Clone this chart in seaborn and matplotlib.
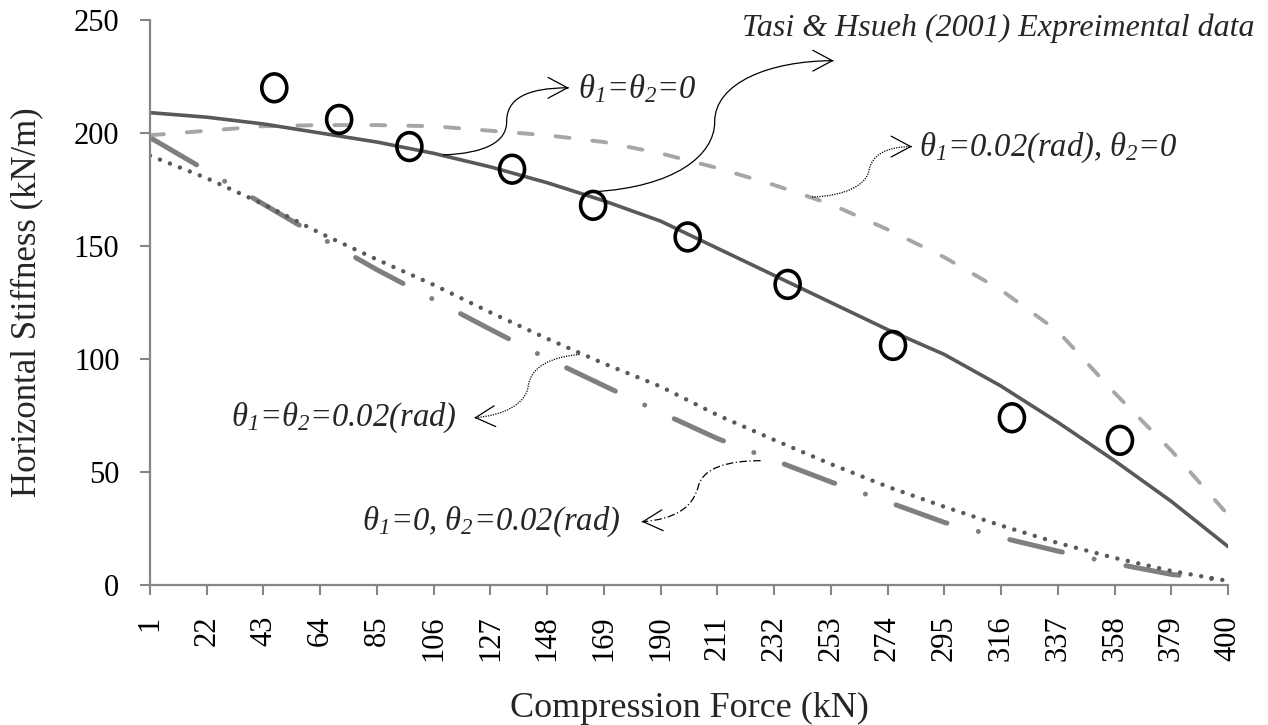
import matplotlib
matplotlib.use("Agg")
import matplotlib.pyplot as plt
from matplotlib.path import Path
from matplotlib.patches import PathPatch
from matplotlib.transforms import Affine2D
import seaborn as sns

# values
force = [1, 22, 43, 64, 85, 106, 127, 148, 169, 190, 211, 232, 253, 274, 295, 316, 337, 358, 379, 400]
k_zero = [209, 207, 204, 200, 196, 191, 185, 178, 170, 161, 149, 137, 125, 113, 102, 88, 72, 55, 37, 17]
k_t1 = [199, 201, 203, 203.5, 203.5, 203, 201, 199, 196, 191, 184.5, 177, 168.5, 157.3, 145, 130.5, 112.3, 85, 59.5, 31]
k_both = [190, 180, 168.5, 155.7, 144, 132.8, 120.6, 109, 98, 87.8, 75.2, 64.2, 53.5, 43.5, 34.6, 26.3, 18.6, 12, 6.2, 1.8]
k_t2 = [198, 183.3, 168.5, 153.8, 139.5, 126.3, 113.1, 100.2, 88.2, 76.3, 64.8, 55.2, 45.6, 36.8, 27.7, 21, 15, 9.5, 4.7, 2]
exp_force = [47, 71, 97, 135, 165, 200, 237, 276, 320, 360]
exp_k = [220, 206, 194, 184, 168, 154, 133, 106, 74, 64]
y_ticks = [0, 50, 100, 150, 200, 250]

sns.set_style("white")
plt.rcParams["font.family"] = ["Liberation Serif", "DejaVu Serif"]
plt.rcParams["mathtext.fontset"] = "custom"
plt.rcParams["mathtext.rm"] = "Liberation Serif:italic"
plt.rcParams["mathtext.it"] = "Liberation Serif:italic"

fig, ax = plt.subplots(figsize=(12.68, 7.25), dpi=100)
fig.subplots_adjust(left=0.1183, right=0.9685, bottom=0.1931, top=0.9724)

# model curves
sns.lineplot(x=force, y=k_t2, ax=ax, color="#7f7f7f", linewidth=3.6,
             linestyle=(0, (10.8, 6.5, 0.01, 6.5)))
ax.lines[-1].set_dash_capstyle("round")
sns.lineplot(x=force, y=k_both, ax=ax, color="#595959", linewidth=3.2,
             linestyle=(0, (0.01, 2.4)))
ax.lines[-1].set_dash_capstyle("round")
sns.lineplot(x=force, y=k_t1, ax=ax, color="#a6a6a6", linewidth=2.8,
             linestyle=(0, (3.6, 5.9)))
ax.lines[-1].set_dash_capstyle("round")
sns.lineplot(x=force, y=k_zero, ax=ax, color="#595959", linewidth=2.6)

# experimental points (slightly tall open circles)
ellipse = Path.unit_circle().transformed(Affine2D().scale(0.9, 1.0))
sns.scatterplot(x=exp_force, y=exp_k, ax=ax, marker=ellipse, s=400,
                facecolor="none", edgecolor="black", linewidth=2.6, zorder=5)

ax.set_xlim(1, 400)
ax.set_ylim(0, 250)
ax.set_xticks(force)
ax.set_xticklabels([str(f) for f in force])
ax.set_yticks(y_ticks)
ax.tick_params(axis="x", labelrotation=90, pad=15)
ax.tick_params(axis="y", pad=15)
ax.tick_params(bottom=True, left=True, direction="out", length=7, width=1.5,
               color="#868686", labelsize=22, labelcolor="black")
sns.despine(ax=ax)
for side in ["left", "bottom"]:
    ax.spines[side].set_color("#868686")
    ax.spines[side].set_linewidth(1.6)

ax.set_xlabel("Compression Force (kN)", fontsize=26)
ax.set_ylabel("Horizontal Stiffness (kN/m)", fontsize=25)
ax.xaxis.set_label_coords(0.5, -0.19)
ax.yaxis.set_label_coords(-0.099, 0.5)


def curved_note(p0, c1, c2, mid, c3, c4, end, ls):
    verts = [p0, c1, c2, mid, c3, c4, end]
    codes = [Path.MOVETO] + [Path.CURVE4] * 6
    ax.add_patch(PathPatch(Path(verts, codes), fill=False, edgecolor="black",
                           linewidth=0.9, linestyle=ls, zorder=6))
    dx = end[0] - c4[0]
    dy = end[1] - c4[1]
    ax.annotate("", xy=end, xytext=(end[0] - dx * 0.05, end[1] - dy * 0.05),
                arrowprops=dict(arrowstyle="->,head_length=1.4,head_width=0.75",
                                color="black", lw=0.9, shrinkA=0, shrinkB=0),
                zorder=6)


curved_note((165, 174), (195, 176), (210, 190), (210, 205),
            (210, 222), (230, 232), (254, 232), "-")
curved_note((109.4, 190.3), (125, 191), (133, 196), (133, 205),
            (133, 215), (140, 220), (156, 220), "-")
curved_note((246, 171.7), (258, 172), (266, 177), (267, 183),
            (268, 190), (273, 194), (283, 194), (0, (1, 1)))
curved_note((160, 102), (150, 101), (142, 97), (141, 88),
            (140, 80), (132, 75), (121, 74), (0, (1, 1)))
curved_note((227, 55), (215, 55), (206, 52), (204, 44),
            (202, 34), (195, 29), (183, 28), (0, (6, 2, 1, 2)))

note_kw = dict(style="italic", va="center", zorder=7)
ax.text(220, 246.5, "Tasi & Hsueh (2001) Expreimental data", ha="left", fontsize=23, **note_kw)
ax.text(159.5, 219.5, r"$\theta_1$=$\theta_2$=0", ha="left", fontsize=23.5, **note_kw)
ax.text(285.5, 193.5, r"$\theta_1$=0.02(rad), $\theta_2$=0", ha="left", fontsize=23.5, **note_kw)
ax.text(114.5, 74, r"$\theta_1$=$\theta_2$=0.02(rad)", ha="right", fontsize=23.5, **note_kw)
ax.text(175, 28, r"$\theta_1$=0, $\theta_2$=0.02(rad)", ha="right", fontsize=23.5, **note_kw)

fig.savefig("out.png", dpi=100)
